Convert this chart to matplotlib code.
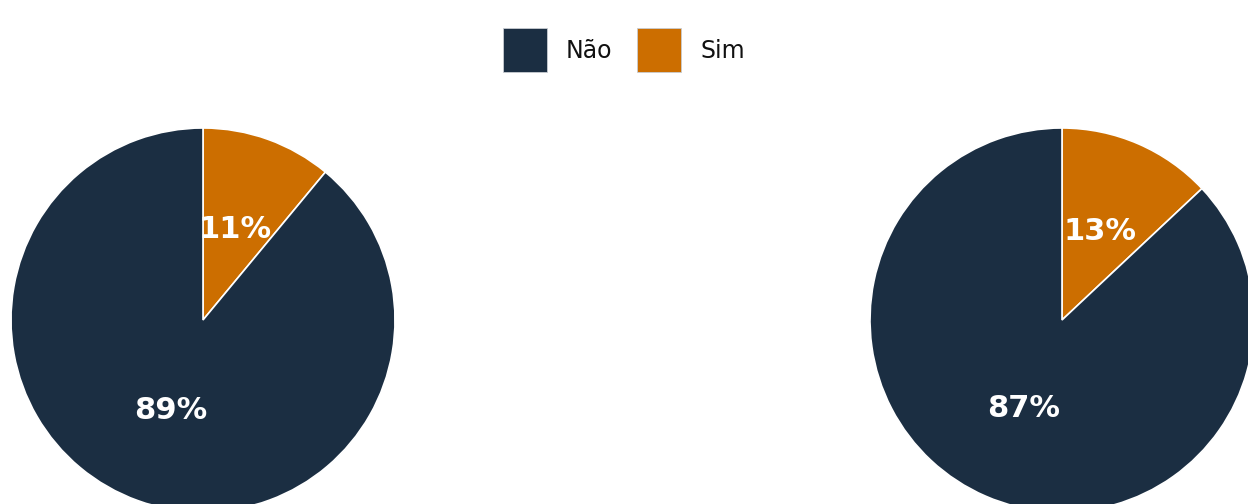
import matplotlib
matplotlib.use("Agg")
import matplotlib.pyplot as plt
from matplotlib.patches import Rectangle

categories = ["Sim", "Não"]
left_values = [11, 89]
right_values = [13, 87]
colors = {"Não": "#1b2e42", "Sim": "#cc6e00"}
legend_order = ["Não", "Sim"]

W, H = 1248, 504
fig = plt.figure(figsize=(W / 100, H / 100), dpi=100)
ax = fig.add_axes([0, 0, 1, 1])

font = ["DejaVu Sans"]


def draw_pie(values, center):
    ax.pie(
        values,
        colors=[colors[c] for c in categories],
        startangle=90,
        counterclock=False,
        center=center,
        radius=192,
        autopct="%d%%",
        pctdistance=0.5,
        wedgeprops=dict(edgecolor="white", linewidth=1.2),
        textprops=dict(color="white", fontsize=22, fontweight="bold", family=font),
        frame=True,
    )


draw_pie(left_values, (203, H - 320))
draw_pie(right_values, (1062, H - 320))
ax.set_xlim(0, W)
ax.set_ylim(0, H)
ax.set_aspect("auto")
ax.axis("off")

# legend
x = 503
for name in legend_order:
    ax.add_patch(Rectangle((x, H - 72), 44, 44, facecolor=colors[name],
                           edgecolor="#c8ccd2", linewidth=0.6))
    ax.text(x + 63, H - 51, name, fontsize=17, color="#111111", family=font,
            va="center", ha="left")
    x += 134

fig.savefig("out.png", dpi=100)
